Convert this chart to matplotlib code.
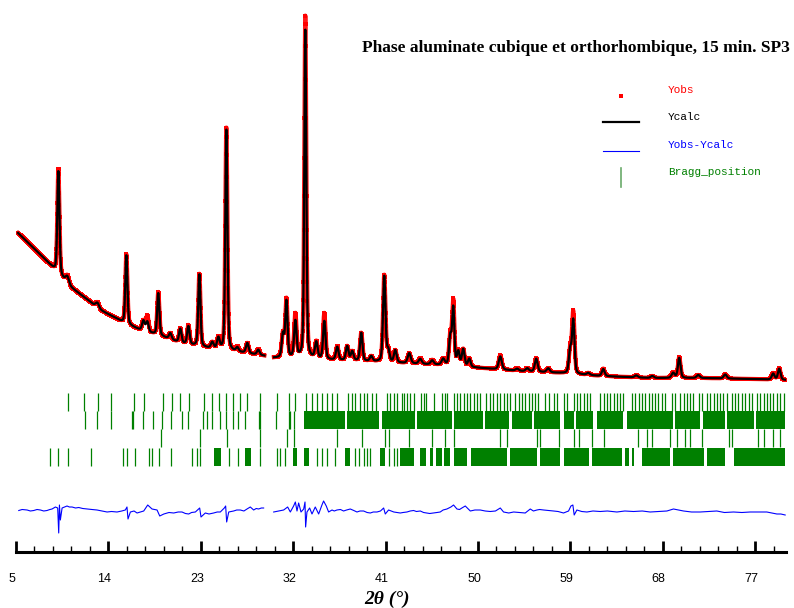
import numpy as np
import matplotlib
matplotlib.use("Agg")
import matplotlib.pyplot as plt
from matplotlib.transforms import ScaledTranslation

# ---------------- data (2theta in degrees, intensities in counts) ----------------
bg_theta = [5.2, 6.4, 8.35, 10.3, 12.0, 13.2, 14.5, 15.5, 17.1, 19.1, 21.0, 23.0, 24.9, 27.3, 29.2,
            30.1, 32.7, 35.6, 38.5, 42.4, 46.3, 50.2, 54.1, 58.0, 61.9, 66.8, 71.6, 76.5, 79.95]
bg_counts = [3190, 3070, 2870, 2650, 2520, 2420, 2350, 2290, 2220, 2160, 2090, 2050, 2020, 1990, 1960,
             1940, 1940, 1920, 1910, 1890, 1870, 1840, 1810, 1790, 1760, 1740, 1740, 1730, 1720]

peak_pos = [9.13, 10.0, 12.93, 15.75, 17.41, 17.79, 18.86, 20.03, 21.0, 21.79, 22.86, 24.12, 24.71,
            25.49, 26.56, 27.53, 28.6, 31.0, 31.34, 32.21, 33.18, 34.25, 35.03, 36.29, 37.26, 37.75,
            38.63, 39.6, 40.87, 41.26, 41.94, 43.3, 44.37, 45.54, 46.61, 47.3, 47.59, 48.08, 48.56,
            49.15, 52.17, 53.82, 54.8, 55.67, 56.84, 58.98, 59.28, 60.74, 62.2, 65.41, 66.97, 69.01,
            69.6, 71.45, 74.08, 78.75, 79.34]
peak_calc = [1030, 70, 50, 690, 100, 100, 420, 60, 140, 180, 720, 60, 110,
             2220, 40, 100, 50, 230, 560, 360, 3280, 160, 380, 130, 140, 90,
             280, 50, 860, 110, 120, 100, 50, 40, 60, 280, 570, 140, 170,
             80, 130, 20, 30, 130, 40, 230, 530, 20, 70, 20, 20, 50,
             200, 30, 40, 60, 110]
peak_obs = [1050, 80, 55, 700, 100, 160, 430, 60, 140, 190, 725, 60, 115,
            2240, 45, 100, 55, 235, 580, 430, 3420, 165, 460, 135, 140, 90,
            280, 50, 870, 115, 120, 100, 55, 45, 60, 290, 640, 145, 170,
            80, 140, 25, 30, 135, 40, 240, 610, 20, 75, 20, 20, 55,
            205, 30, 40, 65, 115]
peak_fwhm = [0.24, 0.4, 0.4, 0.24, 0.3, 0.3, 0.25, 0.3, 0.28, 0.28, 0.25, 0.3, 0.3,
             0.24, 0.3, 0.3, 0.3, 0.28, 0.26, 0.28, 0.23, 0.3, 0.28, 0.3, 0.3, 0.3,
             0.28, 0.3, 0.28, 0.3, 0.3, 0.35, 0.35, 0.35, 0.35, 0.28, 0.26, 0.3, 0.3,
             0.3, 0.35, 0.35, 0.35, 0.32, 0.35, 0.3, 0.28, 0.35, 0.32, 0.35, 0.35, 0.35,
             0.3, 0.35, 0.35, 0.32, 0.3]

excluded = (29.2, 30.1)

diff_theta = [5.27, 5.6, 6.08, 6.4, 6.73, 7.05, 7.38, 7.7, 8.02, 8.3, 8.51, 8.84, 9.06, 9.16, 9.23,
              9.32, 9.49, 9.97, 10.2, 10.46, 10.8, 11.11, 11.5, 11.92, 12.4, 12.89, 13.4, 13.87,
              14.3, 14.84, 15.3, 15.65, 15.81, 15.91, 16.14, 16.5, 16.79, 17.1, 17.44, 17.83,
              18.25, 18.74, 19.0, 19.4, 19.9, 20.36, 20.8, 21.17, 21.5, 21.82, 22.1, 22.47, 22.89,
              23.02, 23.44, 23.8, 24.25, 24.6, 24.9, 25.29, 25.42, 25.52, 25.72, 26.2, 26.5, 26.85,
              27.2, 27.5, 27.82, 28.15, 28.4, 28.63, 28.9, 29.12,
              30.1, 30.58, 31.07, 31.46, 31.72, 32.04, 32.21, 32.37, 32.53, 32.76, 33.02, 33.15,
              33.21, 33.34, 33.6, 33.83, 34.15, 34.48, 34.8, 34.96, 35.22, 35.45, 35.78, 36.0,
              36.26, 36.6, 36.91, 37.2, 37.56, 37.9, 38.21, 38.5, 38.86, 39.2, 39.51, 39.8, 40.16,
              40.5, 40.81, 40.97, 41.29, 41.8, 42.43, 42.7, 43.08, 43.4, 43.73, 44.0, 44.38, 44.7,
              45.03, 45.3, 45.68, 46.0, 46.32, 46.6, 46.97, 47.36, 47.62, 47.95, 48.2, 48.43,
              48.76, 49.25, 49.7, 50.22, 50.7, 51.19, 51.7, 52.17, 52.49, 53.0, 53.47, 54.0, 54.6,
              55.09, 55.4, 55.74, 56.0, 56.39, 56.9, 57.36, 57.8, 58.33, 58.82, 59.05, 59.24,
              59.37, 59.63, 60.1, 60.61, 61.2, 61.9, 62.6, 63.53, 64.3, 65.15, 66.0, 66.77, 67.6,
              68.4, 69.04, 69.53, 70.02, 70.8, 71.64, 72.4, 73.26, 74.0, 74.89, 75.7, 76.51, 77.3,
              78.13, 78.6, 79.11, 79.5, 79.92]
diff_counts = [415, 425, 420, 410, 415, 425, 420, 410, 415, 425, 430, 450, 440, 190, 470,
               320, 440, 460, 450, 450, 440, 445, 435, 430, 425, 420, 410, 400,
               405, 400, 410, 420, 450, 330, 400, 410, 390, 400, 410, 470,
               430, 420, 360, 380, 395, 390, 400, 400, 385, 380, 395, 400, 440,
               350, 390, 380, 390, 400, 400, 440, 460, 300, 400, 410, 420, 420,
               410, 430, 450, 420, 435, 430, 440, 440,
               400, 410, 420, 450, 400, 460, 500, 410, 490, 400, 430, 500,
               250, 400, 440, 380, 450, 380, 470, 510, 460, 400, 420, 410,
               420, 425, 410, 420, 430, 415, 400, 410, 410, 395, 390, 400, 400,
               410, 440, 380, 420, 400, 390, 395, 400, 410, 415, 405, 410, 395,
               390, 385, 390, 395, 400, 420, 430, 450, 470, 430, 425, 440,
               460, 410, 420, 420, 410, 405, 410, 440, 400, 390, 400, 395, 390,
               430, 410, 420, 425, 420, 415, 410, 405, 390, 410, 460, 470,
               370, 420, 405, 400, 410, 405, 410, 400, 410, 405, 410, 400, 405,
               410, 430, 420, 410, 400, 400, 405, 410, 395, 400, 395, 400, 400,
               400, 390, 380, 380, 370]

# Bragg positions, four phases / rows (individual ticks and dense blocks)
row1_ticks = [10.07, 11.59, 12.99, 14.22, 16.46, 17.50, 19.29, 20.20, 21.01, 21.82, 23.28, 24.09,
              24.81, 25.49, 26.10, 26.79, 27.50, 28.73, 30.42, 31.59, 32.21, 33.28, 33.83, 34.32,
              34.80, 35.29, 35.78, 36.26, 37.33, 37.72, 38.05, 38.53, 38.86, 39.18, 39.67, 40.09,
              41.13, 41.46, 41.78, 42.10, 42.59, 42.82, 43.08, 43.40, 43.73, 44.44, 44.70, 44.96,
              45.68, 46.49, 46.81, 46.97, 47.69, 47.95, 48.27, 48.60, 48.92, 49.25, 49.57, 49.90,
              50.15, 50.80, 51.13, 51.45, 51.84, 52.17, 52.49, 52.82, 53.14, 53.63, 53.95, 54.28,
              54.60, 54.93, 55.25, 55.58, 55.80, 56.55, 56.87, 57.36, 57.68, 58.33, 58.66, 59.31,
              59.63, 59.96, 60.28, 60.61, 60.93, 61.90, 62.23, 62.55, 62.88, 63.20, 63.53, 63.85,
              64.11, 64.99, 65.31, 65.64, 65.96, 66.29, 66.61, 66.94, 67.26, 67.58, 67.91, 68.23,
              68.88, 69.21, 69.69, 70.02, 70.34, 70.67, 70.99, 71.48, 71.80, 72.29, 72.61, 72.94,
              73.26, 73.59, 73.91, 74.24, 74.72, 75.05, 75.37, 75.70, 76.02, 76.35, 76.67, 77.16,
              77.48, 77.81, 78.13, 78.46, 78.78, 79.11, 79.43, 79.76]
row2_ticks = [11.69, 12.89, 14.29, 16.33, 16.40, 17.37, 18.31, 19.22, 20.10, 21.17, 21.72, 23.21,
              23.60, 24.09, 24.90, 25.49, 26.10, 26.59, 27.34, 28.64, 28.80, 30.35, 31.56, 31.72,
              32.04]
row2_blocks = [(33.02, 37.07), (37.23, 40.32), (40.64, 43.89), (44.05, 47.46), (47.62, 50.48),
               (50.71, 52.98), (53.30, 55.25), (55.41, 57.94), (58.33, 59.31), (59.57, 61.19),
               (61.58, 64.11), (64.50, 68.98), (69.21, 71.64), (71.90, 74.07), (74.24, 76.84),
               (77.09, 79.92)]
row3_ticks = [19.12, 22.96, 25.55, 28.73, 31.39, 32.04, 36.26, 38.70, 40.97, 41.29, 43.24, 45.51,
              46.81, 47.62, 52.17, 52.82, 55.74, 56.06, 57.85, 59.31, 59.79, 61.09, 62.23, 65.54,
              66.45, 66.94, 68.72, 69.37, 70.18, 70.67, 71.80, 74.40, 74.72, 77.32, 77.81, 78.78,
              79.43]
row4_ticks = [8.28, 9.10, 10.07, 12.34, 15.42, 15.81, 16.63, 17.92, 18.25, 18.90, 20.10, 22.14,
              22.63, 22.96, 25.71, 26.59, 28.80, 30.42, 30.74, 31.23, 34.32, 34.80, 35.29, 36.10,
              38.05, 38.37, 38.86, 39.18, 39.51, 41.29, 41.78, 42.10]
row4_blocks = [(24.25, 24.97), (27.34, 27.89), (31.95, 32.37), (33.02, 33.50), (37.07, 37.56),
               (40.48, 40.97), (42.43, 43.73), (44.38, 44.96), (45.29, 45.61), (45.94, 46.49),
               (46.71, 47.30), (47.62, 48.92), (49.31, 52.82), (53.14, 55.74), (56.06, 58.01),
               (58.33, 60.77), (61.09, 64.01), (64.34, 64.66), (64.99, 65.15), (65.96, 68.72),
               (69.04, 71.97), (72.29, 74.07), (74.89, 79.92)]

major_ticks = [5, 14, 23, 32, 41, 50, 59, 68, 77]

# ---------------- profile ----------------
def profile(x, heights):
    y = np.interp(x, bg_theta, bg_counts)
    for p, h, w in zip(peak_pos, heights, peak_fwhm):
        g = np.exp(-4 * np.log(2) * ((x - p) / w) ** 2)
        lor = 1.0 / (1.0 + 4 * ((x - p) / w) ** 2)
        y = y + h * (0.65 * g + 0.35 * lor)
    return y

x = np.arange(5.2, 79.95, 0.02)
gap = (x > excluded[0]) & (x < excluded[1])
ycalc = profile(x, peak_calc)
yobs = profile(x, peak_obs)
ycalc[gap] = np.nan
yobs[gap] = np.nan

dth = np.array(diff_theta)
dct = np.array(diff_counts, dtype=float)
ins = np.searchsorted(dth, excluded[0])
dth = np.insert(dth, ins, np.nan)
dct = np.insert(dct, ins, np.nan)

# ---------------- figure ----------------
W, H = 794, 608
fig = plt.figure(figsize=(W / 100, H / 100), dpi=100)
ax = fig.add_axes([16 / W, 56 / H, 770 / W, 552 / H])
ax.set_xlim(5, 80.0)
ax.set_ylim(0, 5520)

green = "#008000"
ax.plot(x, yobs, color="#ff0000", lw=3.0, alpha=0.9, zorder=1)
ax.plot(x, yobs, linestyle="none", marker="s", markersize=3.0, color="#ff0000",
        markeredgewidth=0, zorder=2)
ax.plot(x, ycalc, color="black", lw=1.6, zorder=3)
ax.plot(dth, dct, color="#0000ff", lw=0.8, zorder=3)

rows = [(1410, 1590), (1230, 1410), (1050, 1230), (860, 1040)]
ax.vlines(row1_ticks, rows[0][0], rows[0][1], color=green, lw=0.9)
ax.vlines(row2_ticks, rows[1][0], rows[1][1], color=green, lw=0.9)
for a, b in row2_blocks:
    ax.fill_between([a, b], rows[1][0], rows[1][1], color=green, lw=0)
ax.vlines(row3_ticks, rows[2][0], rows[2][1], color=green, lw=0.9)
ax.vlines(row4_ticks, rows[3][0], rows[3][1], color=green, lw=0.9)
for a, b in row4_blocks:
    ax.fill_between([a, b], rows[3][0], rows[3][1], color=green, lw=0)

for s in ["left", "right", "top"]:
    ax.spines[s].set_visible(False)
ax.spines["bottom"].set_linewidth(2.2)
ax.set_yticks([])
ax.set_xticks(major_ticks)
ax.set_xticks([v for v in np.arange(5, 80.0, 1.8) if all(abs(v - m) > 0.1 for m in major_ticks)],
              minor=True)
ax.tick_params(axis="x", which="major", direction="in", length=8, width=2, pad=15,
               labelsize=9)
ax.tick_params(axis="x", which="minor", direction="in", length=4, width=1)
for lbl in ax.get_xticklabels():
    lbl.set_fontfamily("Liberation Sans")
    lbl.set_transform(lbl.get_transform() + ScaledTranslation(-4 / 100, 0, fig.dpi_scale_trans))

def fx(px):
    return px / W

def fy(py):
    return 1 - py / H

fig.text(fx(387), fy(599), "2θ (°)", family="Liberation Serif", weight="bold", style="italic",
         fontsize=14, ha="center", va="center")
fig.text(fx(790), fy(48), "Phase aluminate cubique et orthorhombique, 15 min. SP3",
         family="Liberation Serif", weight="bold", fontsize=12.5, ha="right", va="center")

# legend
mono = "Liberation Mono"
fig.text(fx(668), fy(90), "Yobs", color="#ff0000", family=mono, fontsize=8, va="center")
fig.text(fx(668), fy(117), "Ycalc", color="black", family=mono, fontsize=8, va="center")
fig.text(fx(668), fy(145), "Yobs-Ycalc", color="#0000ff", family=mono, fontsize=8, va="center")
fig.text(fx(668), fy(172), "Bragg_position", color=green, family=mono, fontsize=8, va="center")
fig.add_artist(plt.Line2D([fx(621)], [fy(96)], marker="s", markersize=2.6, color="#ff0000",
                          markeredgewidth=0, linestyle="none"))
fig.add_artist(plt.Line2D([fx(603), fx(639)], [fy(122), fy(122)], color="black", lw=1.6))
fig.add_artist(plt.Line2D([fx(603), fx(639)], [fy(151), fy(151)], color="#0000ff", lw=0.8))
fig.add_artist(plt.Line2D([fx(621), fx(621)], [fy(168), fy(187)], color="#6aaa6a", lw=1.2))

fig.savefig("out.png", dpi=100)
